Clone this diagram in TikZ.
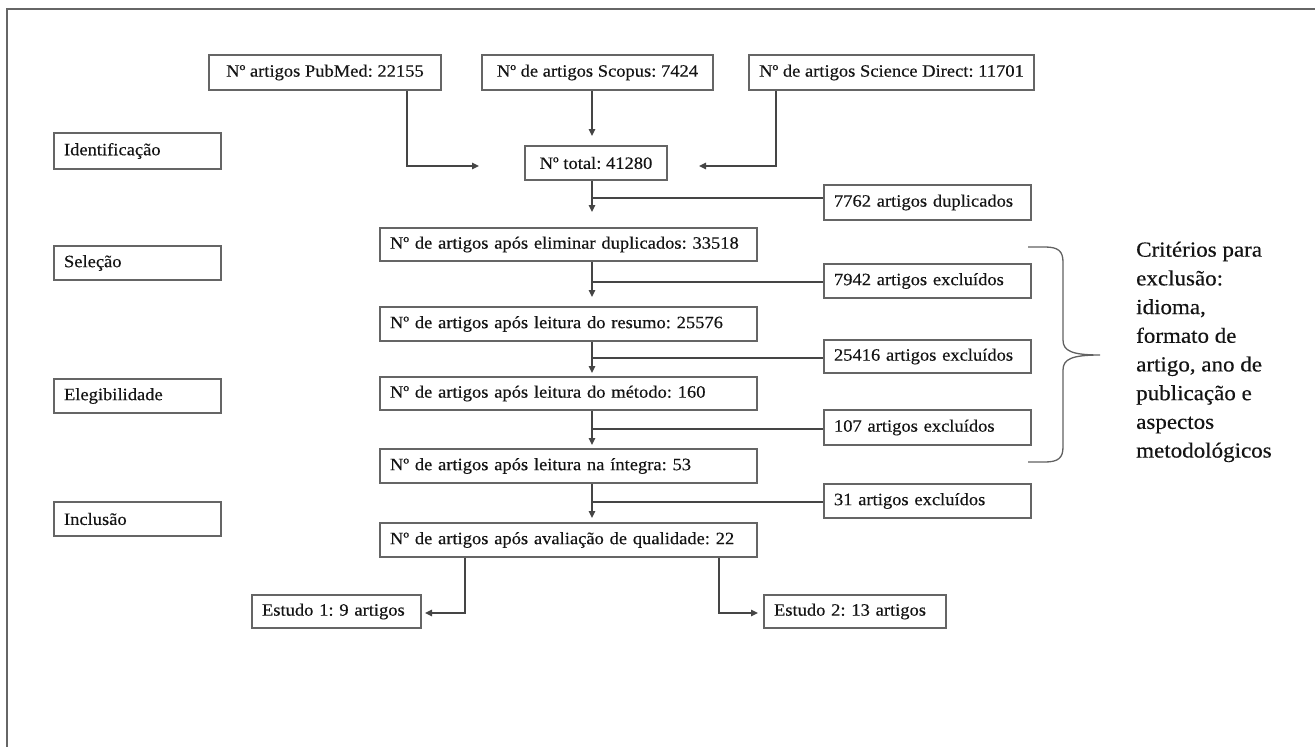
\documentclass[tikz,border=0pt]{standalone}
\usepackage{fontspec}
\setmainfont{Liberation Serif}[FakeStretch=1.07,FakeBold=0.35]
\usetikzlibrary{arrows.meta}
\definecolor{boxc}{HTML}{656565}
\definecolor{linec}{HTML}{454545}
\definecolor{txt}{HTML}{141414}
\definecolor{framec}{HTML}{666666}
\frenchspacing
\begin{document}
\frenchspacing
\begin{tikzpicture}[x=1pt,y=-1pt,
  bx/.style={draw=boxc, line width=1.5pt, text=txt, font=\fontsize{17.3}{19}\selectfont, inner xsep=10pt, inner ysep=0pt},
  lbx/.style={bx, align=left},
  ln/.style={draw=linec, line width=1.3pt},
  arr/.style={ln, -{Triangle[length=7pt,width=6.5pt]}},
  brc/.style={draw=linec!85, line width=1.3pt},
  crit/.style={anchor=north west, inner sep=0pt, align=left, text=txt, font=\fontsize{21.5}{28.7}\selectfont}
  ]
\useasboundingbox (0,0) rectangle (1315,747);
\draw[framec, line width=2.6pt] (7,747) -- (7,9) -- (1315,9);

% sources
\node[bx, minimum width=232pt, minimum height=35pt] (pub) at (325,72.5) {Nº artigos PubMed: 22155};
\node[bx, minimum width=231pt, minimum height=35pt] (sco) at (597.5,72.5) {Nº de artigos Scopus: 7424};
\node[bx, minimum width=277pt, minimum height=35pt] (sd) at (891.5,72.5) {Nº de artigos Science Direct: 11701};

% stage labels
\node[lbx, text width=147pt, minimum height=36pt] (ident) at (137.5,151) {Identificação};
\node[lbx, text width=147pt, minimum height=34pt] (sel) at (137.5,263) {Seleção};
\node[lbx, text width=147pt, minimum height=34pt] (eleg) at (137.5,396) {Elegibilidade};
\node[lbx, text width=147pt, minimum height=34pt] (incl) at (137.5,519) {Inclusão};

% main column
\node[bx, minimum width=142pt, minimum height=34pt] (total) at (596,163) {Nº total: 41280};
\node[lbx, text width=357pt, minimum height=33pt] (n1) at (568.5,244.5) {Nº de artigos após eliminar duplicados: 33518};
\node[lbx, text width=357pt, minimum height=34pt] (n2) at (568.5,324) {Nº de artigos após leitura do resumo: 25576};
\node[lbx, text width=357pt, minimum height=33pt] (n3) at (568.5,393.5) {Nº de artigos após leitura do método: 160};
\node[lbx, text width=357pt, minimum height=34pt] (n4) at (568.5,466) {Nº de artigos após leitura na íntegra: 53};
\node[lbx, text width=357pt, minimum height=34pt] (n5) at (568.5,540) {Nº de artigos após avaliação de qualidade: 22};

% exclusions
\node[lbx, text width=187pt, minimum height=35pt] (dup) at (927.5,202.5) {7762 artigos duplicados};
\node[lbx, text width=187pt, minimum height=34pt] (ex1) at (927.5,281) {7942 artigos excluídos};
\node[lbx, text width=187pt, minimum height=33pt] (ex2) at (927.5,356.5) {25416 artigos excluídos};
\node[lbx, text width=187pt, minimum height=35pt] (ex3) at (927.5,427.5) {107 artigos excluídos};
\node[lbx, text width=187pt, minimum height=34pt] (ex4) at (927.5,501) {31 artigos excluídos};

% studies
\node[lbx, text width=149pt, minimum height=33pt] (e1) at (336.5,611.5) {Estudo 1: 9 artigos};
\node[lbx, text width=162pt, minimum height=33pt] (e2) at (855,611.5) {Estudo 2: 13 artigos};

% criteria
\node[crit] (crittext) at (1136,241.5) {Critérios para\\exclusão:\\idioma,\\formato de\\artigo, ano de\\publicação e\\aspectos\\metodológicos};

% coordinates
\coordinate (pubx) at (407,0);
\coordinate (pubtip) at (479,166);
\coordinate (sdx) at (776,0);
\coordinate (sdtip) at (699,166);
\coordinate (scotip) at (592,136);
\coordinate (t1) at (592,212); \coordinate (b1) at (592,198);
\coordinate (t2) at (592,297); \coordinate (b2) at (592,282);
\coordinate (t3) at (592,373); \coordinate (b3) at (592,358);
\coordinate (t4) at (592,445); \coordinate (b4) at (592,429);
\coordinate (t5) at (592,518); \coordinate (b5) at (592,502);
\coordinate (lx) at (465,0); \coordinate (e1tip) at (425,613);
\coordinate (rx) at (719,0); \coordinate (e2tip) at (758,613);

% connectors
\draw[arr] (pub.south -| pubx) |- (pubtip);
\draw[arr] (sd.south -| sdx) |- (sdtip);
\draw[arr] (sco.south -| scotip) -- (scotip);

\draw[arr] (total.south -| t1) -- (t1);
\draw[ln] (b1) -- (b1 -| dup.west);
\draw[arr] (n1.south -| t2) -- (t2);
\draw[ln] (b2) -- (b2 -| ex1.west);
\draw[arr] (n2.south -| t3) -- (t3);
\draw[ln] (b3) -- (b3 -| ex2.west);
\draw[arr] (n3.south -| t4) -- (t4);
\draw[ln] (b4) -- (b4 -| ex3.west);
\draw[arr] (n4.south -| t5) -- (t5);
\draw[ln] (b5) -- (b5 -| ex4.west);

\draw[arr] (n5.south -| lx) |- (e1tip);
\draw[arr] (n5.south -| rx) |- (e2tip);

% brace
\draw[brc] (1028,247) -- (1045,247) .. controls (1058,247) and (1063,251) .. (1063,262) -- (1063,340) .. controls (1063,351) and (1072,355) .. (1100,355) .. controls (1072,355) and (1063,359) .. (1063,370) -- (1063,447) .. controls (1063,458) and (1058,462) .. (1045,462) -- (1028,462);
\end{tikzpicture}
\end{document}
